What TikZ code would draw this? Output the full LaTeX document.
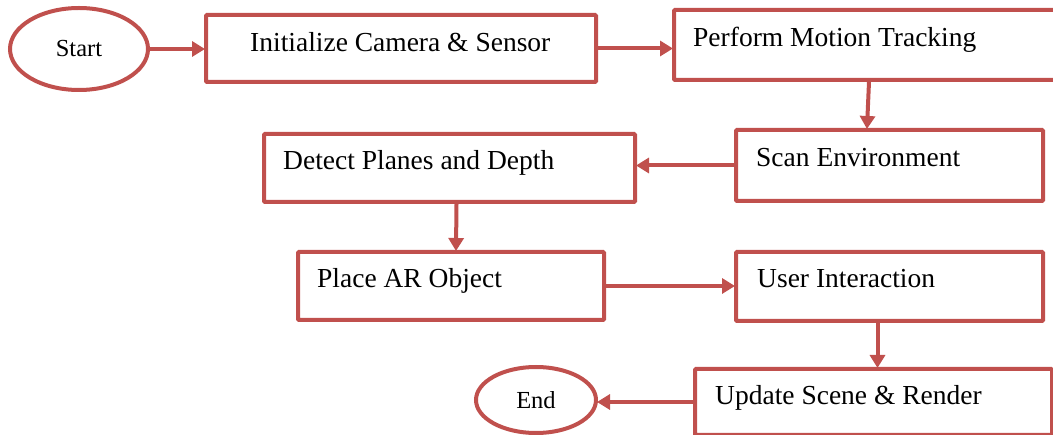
\documentclass[tikz,border=0pt]{standalone}
\usepackage{fontspec}
\setmainfont{Liberation Serif}
\usetikzlibrary{arrows.meta,shapes.geometric}
\definecolor{fr}{RGB}{192,80,77}
\tikzset{
  box/.style={draw=fr, line width=4pt, rectangle, rounded corners=1pt, inner sep=0pt, anchor=north west},
  ell/.style={draw=fr, line width=4pt, ellipse, inner sep=0pt, font=\fontsize{24.5}{29}\selectfont},
  txt/.style={inner sep=0pt, anchor=base west, font=\fontsize{27.5}{33}\selectfont},
  arr/.style={draw=fr, line width=4pt, -{Triangle[length=13pt,width=15pt]}, shorten >=-1pt}
}
\begin{document}
\begin{tikzpicture}[x=1pt,y=-1pt]
\useasboundingbox (0,0) rectangle (1053,435);
% shapes
\node[ell, minimum width=138pt, minimum height=82pt] (start) at (79,49) {Start};
\node[box, minimum width=390pt, minimum height=67pt] (init) at (204,13) {};
\node[box, minimum width=386pt, minimum height=70pt] (perform) at (672,8) {};
\node[box, minimum width=307pt, minimum height=71pt] (scan) at (734,128) {};
\node[box, minimum width=371pt, minimum height=68pt] (detect) at (262,132) {};
\node[box, minimum width=306pt, minimum height=68pt] (place) at (296,250) {};
\node[box, minimum width=307pt, minimum height=69pt] (user) at (734,250) {};
\node[box, minimum width=357pt, minimum height=66pt] (update) at (693,367) {};
\node[ell, minimum width=120pt, minimum height=66pt] (end) at (536,400) {End};
% texts
\node[txt] (tinit) at (250,52) {Initialize Camera \& Sensor};
\node[txt] (tperform) at (693,47) {Perform Motion Tracking};
\node[txt] (tscan) at (756,167) {Scan Environment};
\node[txt] (tdetect) at (283,170) {Detect Planes and Depth};
\node[txt] (tplace) at (317,288) {Place AR Object};
\node[txt] (tuser) at (757,288) {User Interaction};
\node[txt] (tupdate) at (715,405) {Update Scene \& Render};
% connectors
\draw[arr] (start.east) -- (start.east -| init.west);
\draw[arr] ([yshift=0pt]init.east) -- ([yshift=0pt]init.east -| perform.west);
\draw[arr] ([xshift=2pt]perform.south) -- (perform.south |- scan.north);
\draw[arr] (scan.west) -- (scan.west -| detect.east);
\draw[arr] ([xshift=7pt]detect.south) -- ([xshift=5pt]place.north);
\draw[arr] (place.east) -- (place.east -| user.west);
\draw[arr] ([xshift=-12pt]user.south) -- ([xshift=-12pt]user.south |- update.north);
\draw[arr] (update.west) -- (update.west -| end.east);
\end{tikzpicture}
\end{document}
